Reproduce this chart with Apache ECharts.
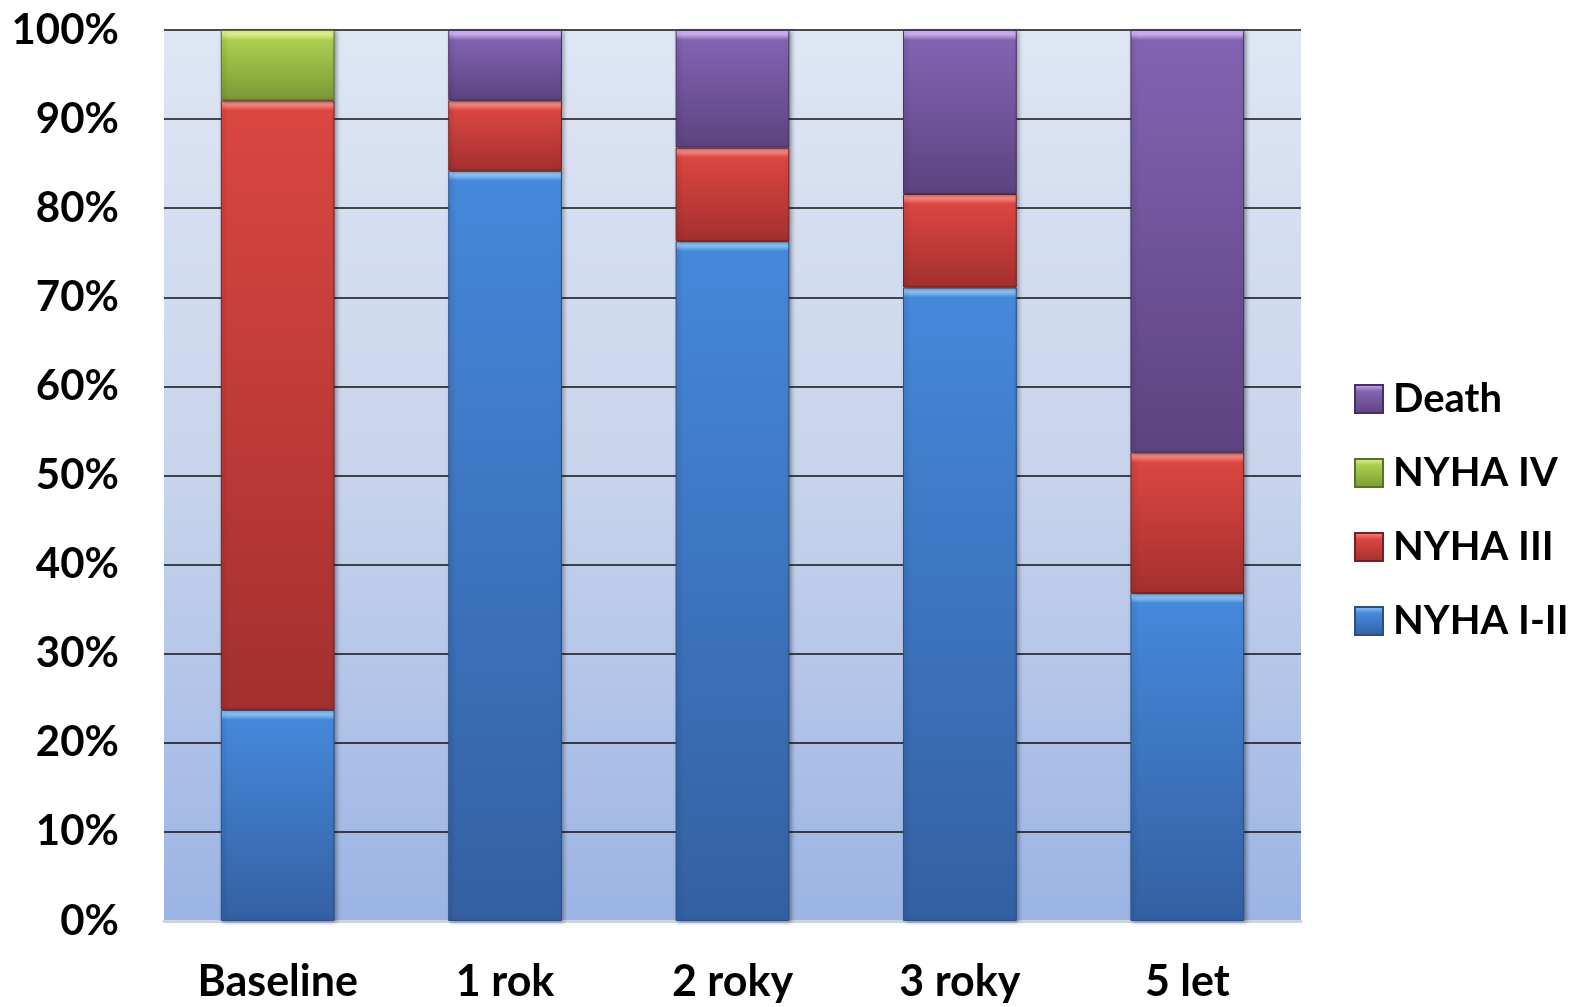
<!DOCTYPE html>
<html>
<head>
<meta charset="utf-8">
<script src="https://cdn.jsdelivr.net/npm/echarts@6/dist/echarts.min.js"></script>
<style>
  html, body { margin: 0; padding: 0; background: #ffffff; }
  #chart { width: 1572px; height: 1007px; }
</style>
</head>
<body>
<div id="chart"></div>
<script>
// NYHA class distribution over follow-up (percent of patients)
const categories = ['Baseline', '1 rok', '2 roky', '3 roky', '5 let'];
const nyhaI_II = [23.7, 84.2, 76.3, 71.1, 36.8];
const nyhaIII  = [68.4, 7.9, 10.5, 10.5, 15.8];
const nyhaIV   = [7.9, 0, 0, 0, 0];
const death    = [0, 7.9, 13.2, 18.4, 47.4];
const yTicks   = [0, 10, 20, 30, 40, 50, 60, 70, 80, 90, 100];

const FONT = 'Lato, "Open Sans", sans-serif';
const GRID = { left: 164, right: 271, top: 30, bottom: 86 };
const PLOT_H = 1007 - GRID.top - GRID.bottom;

const palette = {
  'NYHA I-II': { hi: '#8fcbff', top: '#4588da', bot: '#3460a2', edge: '#2a4e85' },
  'NYHA III':  { hi: '#ff8a85', top: '#db4641', bot: '#a3302e', edge: '#76201f' },
  'NYHA IV':   { hi: '#e2f58c', top: '#a9cf4f', bot: '#7b9836', edge: '#5a7127' },
  'Death':     { hi: '#d3b2f6', top: '#8263b2', bot: '#5d4380', edge: '#45315f' }
};

// vertical gradient with a thin light bevel along the top of each segment
function fill(name, value) {
  const p = palette[name];
  const px = Math.max(1, value / 100 * PLOT_H);
  const f = Math.min(0.45, 10 / px);
  return new echarts.graphic.LinearGradient(0, 0, 0, 1, [
    { offset: 0, color: p.hi },
    { offset: f * 0.4, color: p.hi },
    { offset: f, color: p.top },
    { offset: 1, color: p.bot }
  ]);
}

function makeSeries(name, values) {
  const p = palette[name];
  return {
    name: name,
    type: 'bar',
    stack: 'total',
    barWidth: '50%',
    itemStyle: {
      color: new echarts.graphic.LinearGradient(0, 0, 0, 1, [
        { offset: 0, color: p.hi },
        { offset: 0.25, color: p.top },
        { offset: 1, color: p.bot }
      ]),
      borderColor: p.edge,
      borderWidth: 1,
      shadowColor: 'rgba(0,0,0,0.35)',
      shadowBlur: 4,
      shadowOffsetX: 2,
      shadowOffsetY: 1
    },
    data: values.map(v => v > 0
      ? { value: v, itemStyle: { color: fill(name, v) } }
      : '-')
  };
}

const chart = echarts.init(document.getElementById('chart'), null, { renderer: 'canvas' });
chart.setOption({
  animation: false,
  backgroundColor: '#ffffff',
  grid: {
    left: GRID.left, right: GRID.right, top: GRID.top, bottom: GRID.bottom,
    show: true,
    borderWidth: 0,
    backgroundColor: new echarts.graphic.LinearGradient(0, 0, 0, 1, [
      { offset: 0, color: '#dfe6f4' },
      { offset: 0.5, color: '#c8d4ec' },
      { offset: 1, color: '#9bb4e4' }
    ])
  },
  legend: {
    orient: 'vertical',
    left: 1349,
    top: 374,
    itemWidth: 28,
    itemHeight: 28,
    itemGap: 34,
    icon: 'rect',
    data: ['Death', 'NYHA IV', 'NYHA III', 'NYHA I-II'],
    textStyle: { fontFamily: FONT, fontSize: 40, fontWeight: 'bold', color: '#000', lineHeight: 40, padding: [0, 0, 0, 5] }
  },
  xAxis: {
    type: 'category',
    data: categories,
    axisTick: { show: false },
    axisLine: { show: true, lineStyle: { color: '#cfd3da', width: 3 } },
    axisLabel: { fontFamily: FONT, fontSize: 43, fontWeight: 'bold', color: '#000', margin: 40 }
  },
  yAxis: {
    type: 'value',
    min: yTicks[0],
    max: yTicks[yTicks.length - 1],
    interval: yTicks[1] - yTicks[0],
    axisLine: { show: false },
    axisTick: { show: false },
    axisLabel: { fontFamily: FONT, fontSize: 42, fontWeight: 'bold', color: '#000', margin: 45, formatter: '{value}%' },
    splitLine: { show: true, lineStyle: { color: '#111', width: 1.5 } }
  },
  series: [
    makeSeries('NYHA I-II', nyhaI_II),
    makeSeries('NYHA III', nyhaIII),
    makeSeries('NYHA IV', nyhaIV),
    makeSeries('Death', death)
  ]
});
</script>
</body>
</html>
